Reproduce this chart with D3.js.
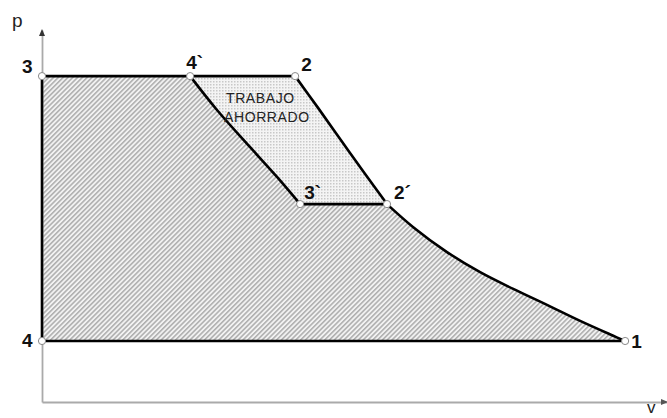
<!DOCTYPE html>
<html>
<head>
<meta charset="utf-8">
<script src="https://cdn.jsdelivr.net/npm/d3@7"></script>
<style>
  body { margin: 0; background: #fff; }
  svg { display: block; font-family: "Liberation Sans", Arial, sans-serif; }
  .state-label { font-weight: bold; font-size: 19px; fill: #111; }
  .axis-label { font-size: 19px; fill: #222; }
  .note { font-size: 14px; fill: #222; letter-spacing: 0.6px; }
</style>
</head>
<body>
<svg id="chart-svg" width="667" height="418"></svg>
<script>
// state points of the cycle (v, p in arbitrary units)
const stateLabels = ['3', '4`', '2', '3`', '2´', '1', '4'];
const stateV = [0, 2.37, 4.05, 4.13, 5.52, 9.33, 0];
const stateP = [8.76, 8.76, 8.76, 5.32, 5.32, 1.64, 1.64];

// 4` -> 3`
const curveAV = [2.37, 2.80, 3.33, 3.76, 4.13];
const curveAP = [8.76, 7.85, 6.85, 6.05, 5.32];
// 2 -> 2´
const curveBV = [4.05, 4.42, 4.69, 4.90, 5.17, 5.52];
const curveBP = [8.76, 7.90, 7.26, 6.76, 6.13, 5.32];
// 2´ -> 1
const curveCV = [5.52, 5.94, 6.48, 7.01, 7.54, 8.08, 8.61, 9.14, 9.33];
const curveCP = [5.32, 4.70, 4.03, 3.49, 3.04, 2.61, 2.18, 1.78, 1.64];

const noteLines = ['TRABAJO', 'AHORRADO'];

let svg = d3.select('#chart-svg');

let xScale = d3.scaleLinear().domain([0, 10]).range([42, 667]);
let yScale = d3.scaleLinear().domain([0, 10]).range([402, 30]);

let pts = stateLabels.map((s, i) => ({label: s, v: stateV[i], p: stateP[i]}));
let byLabel = {};
pts.forEach(d => byLabel[d.label] = d);

function zip(vs, ps) {
    return vs.map((v, i) => ({v: v, p: ps[i]}));
}

let curveA = zip(curveAV, curveAP);
let curveB = zip(curveBV, curveBP);
let curveC = zip(curveCV, curveCP);

let smooth = d3.line()
    .x(d => xScale(d.v))
    .y(d => yScale(d.p))
    .curve(d3.curveCatmullRom.alpha(0.5));

function seg(d) {
    return 'L' + xScale(d.v) + ',' + yScale(d.p);
}
function cont(data) {
    return smooth(data).replace(/^M/, 'L');
}

//patterns
let defs = svg.append('defs');
let hatch = defs.append('pattern')
    .attr('id', 'hatch')
    .attr('patternUnits', 'userSpaceOnUse')
    .attr('width', 3.4)
    .attr('height', 3.4)
    .attr('patternTransform', 'rotate(45)');
hatch.append('rect').attr('width', 3.4).attr('height', 3.4).attr('fill', '#f2f2f2');
hatch.append('line')
    .attr('x1', 0.8).attr('y1', 0).attr('x2', 0.8).attr('y2', 3.4)
    .attr('stroke', '#9a9a9a').attr('stroke-width', 1.2);

let dots = defs.append('pattern')
    .attr('id', 'dots')
    .attr('patternUnits', 'userSpaceOnUse')
    .attr('width', 3)
    .attr('height', 3);
dots.append('rect').attr('width', 3).attr('height', 3).attr('fill', '#f4f4f4');
dots.append('rect').attr('width', 1.5).attr('height', 1.5).attr('fill', '#c8c8c8');

// areas
let p3 = byLabel['3'], p4a = byLabel['4`'], p2 = byLabel['2'],
    p3a = byLabel['3`'], p2a = byLabel['2´'], p1 = byLabel['1'], p4 = byLabel['4'];

let mainArea = 'M' + xScale(p3.v) + ',' + yScale(p3.p) + seg(p4a) + cont(curveA) + seg(p2a) + cont(curveC) + seg(p4) + 'Z';
let savedArea = 'M' + xScale(p4a.v) + ',' + yScale(p4a.p) + seg(p2) + cont(curveB) + seg(p3a) + cont(curveA.slice().reverse()) + 'Z';

svg.append('path').attr('d', mainArea).attr('fill', 'url(#hatch)');
svg.append('path').attr('d', savedArea).attr('fill', 'url(#dots)');

// axes
const yAxisGroup = svg.append('g').attr('transform', 'translate(' + xScale(0) + ',0)')
    .call(d3.axisLeft(yScale).tickValues([]).tickSizeOuter(0));
const xAxisGroup = svg.append('g').attr('transform', 'translate(0,' + yScale(0) + ')')
    .call(d3.axisBottom(xScale).tickValues([]).tickSizeOuter(0));
svg.selectAll('.domain').attr('stroke', '#aaa').attr('stroke-width', 1.8);

let ax = xScale(0), ay = yScale(10);
svg.append('path')
    .attr('d', 'M' + ax + ',' + (ay - 1) + 'L' + (ax - 3) + ',' + (ay + 6) + 'L' + (ax + 3) + ',' + (ay + 6) + 'Z')
    .attr('fill', '#333');
let bx = xScale(10), by = yScale(0);
svg.append('path')
    .attr('d', 'M' + (bx + 1) + ',' + by + 'L' + (bx - 6) + ',' + (by - 3) + 'L' + (bx - 6) + ',' + (by + 3) + 'Z')
    .attr('fill', '#555');

// cycle lines
let lines = svg.append('g').attr('fill', 'none').attr('stroke', '#000')
    .attr('stroke-width', 2.6).attr('stroke-linejoin', 'round');
let straight = d3.line().x(d => xScale(d.v)).y(d => yScale(d.p));
lines.append('path').attr('d', straight([p4, p3, p4a, p2]));
lines.append('path').attr('d', straight([p3a, p2a]));
lines.append('path').attr('d', straight([p4, p1]));
lines.append('path').attr('d', smooth(curveA));
lines.append('path').attr('d', smooth(curveB));
lines.append('path').attr('d', smooth(curveC));

// markers
svg.append('g').selectAll('circle').data(pts).enter().append('circle')
    .attr('cx', d => xScale(d.v))
    .attr('cy', d => yScale(d.p))
    .attr('r', 3.6)
    .attr('fill', '#fff')
    .attr('stroke', '#888')
    .attr('stroke-width', 1);

// state labels
const labelOffset = {
    '3': [-20, -3], '4`': [-4, -7], '2': [6, -5],
    '3`': [4, -5], '2´': [7, -5], '1': [6, 7], '4': [-20, 6]
};
svg.append('g').selectAll('text').data(pts).enter().append('text')
    .attr('class', 'state-label')
    .attr('x', d => xScale(d.v) + labelOffset[d.label][0])
    .attr('y', d => yScale(d.p) + labelOffset[d.label][1])
    .text(d => d.label);

svg.append('text').attr('class', 'axis-label').attr('x', 12).attr('y', 27).text('p');
svg.append('text').attr('class', 'axis-label').attr('x', 647).attr('y', 413).style('font-size', '17px').text('v');

svg.append('g').selectAll('text').data(noteLines).enter().append('text')
    .attr('class', 'note')
    .attr('x', (d, i) => i == 0 ? 226 : 224)
    .attr('y', (d, i) => 103 + i * 19)
    .text(d => d);
</script>
</body>
</html>
